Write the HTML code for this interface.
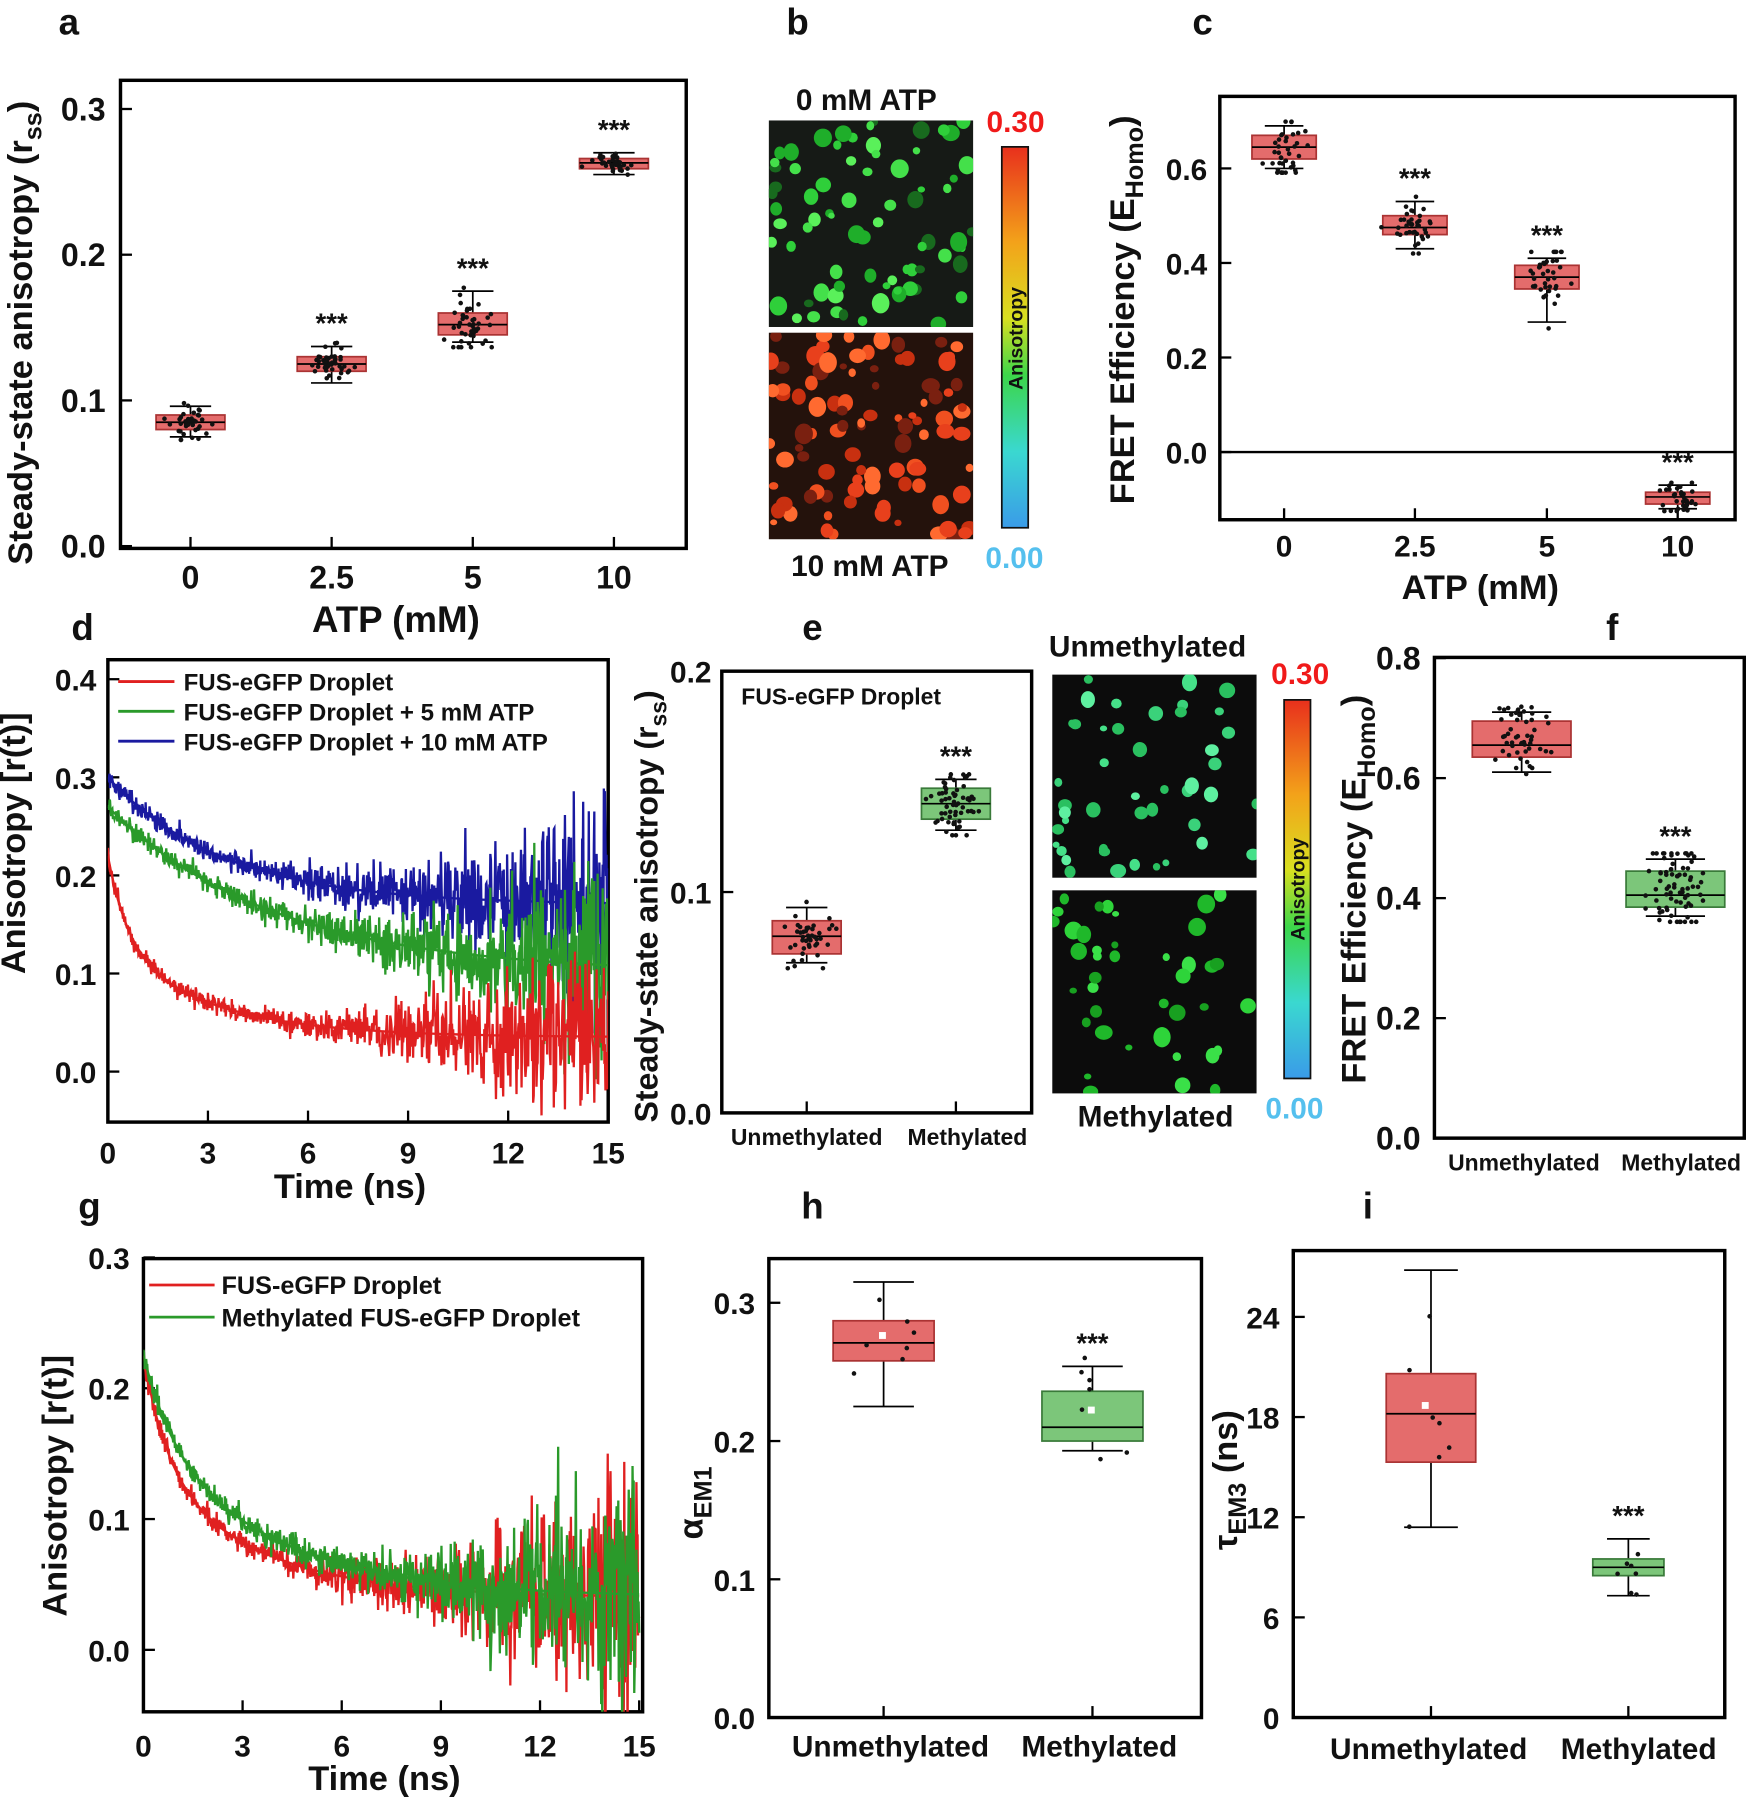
<!DOCTYPE html>
<html><head><meta charset="utf-8"><style>
html,body{margin:0;padding:0;background:#fff;overflow:hidden;width:1750px;height:1799px}
svg{display:block}
text{font-family:"Liberation Sans",Arial,sans-serif;font-weight:bold;fill:#111}
</style></head><body>
<svg id="s" width="1750" height="1799" viewBox="0 0 1525 1568" preserveAspectRatio="none" xmlns="http://www.w3.org/2000/svg">
<defs>
<linearGradient id="cb" x1="0" y1="0" x2="0" y2="1">
<stop offset="0" stop-color="#e8301c"/><stop offset="0.25" stop-color="#f3a21a"/><stop offset="0.45" stop-color="#d8e020"/><stop offset="0.6" stop-color="#3cd64a"/><stop offset="0.8" stop-color="#3ad8d0"/><stop offset="1" stop-color="#3a9be8"/>
</linearGradient>
<clipPath id="cd"><rect x="94" y="575" width="436" height="403"/></clipPath>
<clipPath id="cg"><rect x="125" y="1097" width="435" height="395"/></clipPath>
</defs>
<g id="g"></g>
</svg>
<script>
var G=document.getElementById('g'),out='';
var seed=12345;function rnd(){seed=(seed*16807)%2147483647;return seed/2147483647;}
function gauss(){var u=rnd()||1e-9,v=rnd();return Math.sqrt(-2*Math.log(u))*Math.cos(2*Math.PI*v);}
function T(x,y,s,sz,o){o=o||{};out+='<text x="'+x+'" y="'+y+'" font-size="'+sz+'" text-anchor="'+(o.a||'middle')+'"'+(o.f?' style="fill:'+o.f+'"':'')+(o.r?' transform="rotate(-90 '+x+' '+y+')"':'')+(o.w?' font-weight="'+o.w+'"':'')+'>'+s+'</text>';}
function R(x,y,w,h,st,fill,sw){out+='<rect x="'+x+'" y="'+y+'" width="'+w+'" height="'+h+'" fill="'+(fill||'none')+'" stroke="'+(st||'#000')+'" stroke-width="'+(sw||3)+'"/>';}
function L(x1,y1,x2,y2,c,w){out+='<line x1="'+x1+'" y1="'+y1+'" x2="'+x2+'" y2="'+y2+'" stroke="'+(c||'#000')+'" stroke-width="'+(w||2)+'"/>';}
function box(cx,w,Y,q1,q3,med,wl,wh,col,n,spread,stars){
 var red=col=='r';var fill=red?'#e46c6c':'#7cc67a',st=red?'#a33':'#3a7a3a';
 L(cx,Y(wh),cx,Y(q3),'#000',1.5);L(cx,Y(q1),cx,Y(wl),'#000',1.5);
 L(cx-w*0.3,Y(wh),cx+w*0.3,Y(wh),'#000',1.5);L(cx-w*0.3,Y(wl),cx+w*0.3,Y(wl),'#000',1.5);
 R(cx-w/2,Y(q3),w,Y(q1)-Y(q3),st,fill,1.5);L(cx-w/2,Y(med),cx+w/2,Y(med),'#000',1.5);
 for(var i=0;i<n;i++){var m=(q1+q3)/2,s=(q3-q1)*spread;var v=m+gauss()*s;v=Math.max(wl-(wh-wl)*0.1,Math.min(wh+(wh-wl)*0.1,v));out+='<circle cx="'+(cx+gauss()*w*0.15)+'" cy="'+Y(v)+'" r="2" fill="#111"/>';}
 if(stars)T(cx,Y(wh)-12,'***',24);
}
function lbl(s,x,y){T(x,y,s,32);}
// ---------- a
lbl('a',60,30);
R(105,70,493,408);
var Ya=function(v){return 476-v*1270;};
[0,0.1,0.2,0.3].forEach(function(v){L(105,Ya(v),115,Ya(v));T(92,Ya(v)+10,v.toFixed(1),28,{a:'end'});});
[[166,'0'],[289,'2.5'],[412,'5'],[535,'10']].forEach(function(t){L(t[0],478,t[0],468);T(t[0],513,t[1],28);});
T(345,551,'ATP (mM)',32);T(28,290,'Steady-state anisotropy (r<tspan font-size="22" dy="8">ss</tspan><tspan dy="-8">)</tspan>',30,{r:1});
box(166,60,Ya,.08,.09,.085,.075,.096,'r',40,0.6,0);
box(289,60,Ya,.12,.13,.125,.112,.137,'r',45,0.6,1);
box(412,60,Ya,.145,.16,.152,.14,.175,'r',45,0.6,1);
box(535,60,Ya,.259,.266,.263,.255,.27,'r',40,0.5,1);
// ---------- images
function img(x,y,w,h,bg,cols,n,rmin,rmax){out+='<rect x="'+x+'" y="'+y+'" width="'+w+'" height="'+h+'" fill="'+bg+'"/>';
 out+='<svg x="'+x+'" y="'+y+'" width="'+w+'" height="'+h+'">';
 for(var i=0;i<n;i++){var r=rmin+rnd()*(rmax-rmin);out+='<ellipse cx="'+(rnd()*w)+'" cy="'+(rnd()*h)+'" rx="'+r+'" ry="'+(r*(0.8+rnd()*0.4))+'" fill="'+cols[Math.floor(rnd()*cols.length)]+'"/>';}
 out+='</svg>';}
lbl('b',695,30);
T(755,96,'0 mM ATP',26);T(758,502,'10 mM ATP',26);
img(670,105,178,180,'#161a16',['#2fcf3a','#44e04a','#1fae2a','#5af05a','#186a1e'],75,2.5,8);
img(670,290,178,180,'#24120c',['#e8401c','#f05020','#c83010','#ff6a30','#7a2010'],95,3,8);
R(873,128,23,332,'#111','url(#cb)',1.5);
T(885,115,'0.30',26,{f:'#f01a1a'});T(884,495,'0.00',26,{f:'#55c0ee'});
T(891,295,'Anisotropy',17,{r:1,w:'normal'});
// ---------- c
lbl('c',1048,30);
R(1063,84,449,369);
var Yc=function(v){return 394-v*412;};
[0,0.2,0.4,0.6].forEach(function(v){L(1063,Yc(v),1073,Yc(v));T(1052,Yc(v)+10,v.toFixed(1),26,{a:'end'});});
L(1063,394,1512,394,'#000',2);
[[1119,'0'],[1233,'2.5'],[1348,'5'],[1462,'10']].forEach(function(t){L(t[0],453,t[0],443);T(t[0],485,t[1],26);});
T(1290,522,'ATP (mM)',30);T(988,270,'FRET Efficiency (E<tspan font-size="22" dy="8">Homo</tspan><tspan dy="-8">)</tspan>',30,{r:1});
box(1119,56,Yc,.62,.67,.645,.6,.69,'r',40,0.7,0);
box(1233,56,Yc,.46,.50,.475,.43,.53,'r',40,0.7,1);
box(1348,56,Yc,.345,.395,.37,.275,.41,'r',40,0.8,1);
box(1462,56,Yc,-.11,-.085,-.095,-.12,-.07,'r',35,0.7,1);
// ---------- d
lbl('d',72,558);
R(94,575,436,403);
var Yd=function(v){return 934-v*855;},Xd=function(t){return 94+t*29.07;};
[0,0.1,0.2,0.3,0.4].forEach(function(v){L(94,Yd(v),104,Yd(v));T(84,Yd(v)+10,v.toFixed(1),26,{a:'end'});});
[0,3,6,9,12,15].forEach(function(t){L(Xd(t),978,Xd(t),968);T(Xd(t),1014,t,26);});
T(305,1044,'Time (ns)',30);T(22,735,'Anisotropy [r(t)]',30,{r:1});
function curve(X,Y,f,tmax,nz,col,clip){var d='',dd='';for(var i=0;i<=900;i++){var t=i/900*tmax;var n=nz(t)*gauss();d+=(i?'L':'M')+X(t).toFixed(1)+' '+Y(f(t)+n).toFixed(1);}
 for(var i=0;i<=150;i++){var t=i/150*tmax;dd+=(i?'L':'M')+X(t).toFixed(1)+' '+Y(f(t)).toFixed(1);}
 out+='<g clip-path="url(#'+clip+')"><path d="'+d+'" fill="none" stroke="'+col+'" stroke-width="2"/><path d="'+dd+'" fill="none" stroke="'+col+'" stroke-width="2"/></g>';}
function nzf(a,b){return function(t){var u=t/15;return a+b*u*u*u;};}
curve(Xd,Yd,function(t){return .17+.13*Math.exp(-t/3.5);},15,nzf(.005,.055),'#1a1aa0','cd');
curve(Xd,Yd,function(t){return .1+.17*Math.exp(-t/5);},15,nzf(.005,.05),'#2a9a2a','cd');
curve(Xd,Yd,function(t){return .035+.09*Math.exp(-t/0.6)+.095*Math.exp(-t/3);},15,nzf(.004,.045),'#e02020','cd');
[['#e02020','FUS-eGFP Droplet',594],['#2a9a2a','FUS-eGFP Droplet + 5 mM ATP',620],['#1a1aa0','FUS-eGFP Droplet + 10 mM ATP',646]].forEach(function(l){L(103,l[2],152,l[2],l[0],2.5);T(160,l[2]+8,l[1],21,{a:'start'});});
// ---------- e
lbl('e',708,558);
R(629,585,270,385);
var Ye=function(v){return 970-v*1925;};
[0,0.1,0.2].forEach(function(v){L(629,Ye(v),639,Ye(v));T(620,Ye(v)+10,v.toFixed(1),26,{a:'end'});});
L(703,970,703,960);L(833,970,833,960);
T(703,998,'Unmethylated',20);T(843,998,'Methylated',20);
T(646,614,'FUS-eGFP Droplet',20,{a:'start'});
T(573,790,'Steady-state anisotropy (r<tspan font-size="20" dy="8">ss</tspan><tspan dy="-8">)</tspan>',28,{r:1});
box(703,60,Ye,.072,.087,.08,.068,.093,'r',45,0.6,0);
box(833,60,Ye,.133,.147,.14,.128,.151,'g',60,0.6,1);
T(1000,572,'Unmethylated',26);T(1007,982,'Methylated',26);
img(917,588,178,177,'#0c0c0c',['#3ad27a','#45e088','#2ac060','#5ef0a0'],45,3,7);
img(917,776,178,177,'#0c0c0c',['#1fb82a','#2ed43a','#18a020','#3ae048'],40,3,8);
R(1119,610,23,330,'#111','url(#cb)',1.5);
T(1133,596,'0.30',26,{f:'#f01a1a'});T(1128,975,'0.00',26,{f:'#55c0ee'});
T(1137,775,'Anisotropy',17,{r:1,w:'normal'});
// ---------- f
lbl('f',1405,558);
R(1250,573,270,419);
var Yf=function(v){return 992-v*523;};
[0,0.2,0.4,0.6,0.8].forEach(function(v){L(1250,Yf(v),1260,Yf(v));T(1238,Yf(v)+10,v.toFixed(1),28,{a:'end'});});
T(1328,1020,'Unmethylated',20);T(1465,1020,'Methylated',20);
T(1190,775,'FRET Efficiency (E<tspan font-size="22" dy="8">Homo</tspan><tspan dy="-8">)</tspan>',30,{r:1});
box(1326,86,Yf,.635,.695,.655,.61,.71,'r',50,0.6,0);
box(1460,86,Yf,.385,.445,.405,.37,.465,'g',75,0.7,1);
// ---------- g
lbl('g',78,1062);
R(125,1097,435,395);
var Yg=function(v){return 1438-v*1140;},Xg=function(t){return 125+t*28.8;};
[0,0.1,0.2,0.3].forEach(function(v){L(125,Yg(v),135,Yg(v));T(113,Yg(v)+10,v.toFixed(1),26,{a:'end'});});
[0,3,6,9,12,15].forEach(function(t){L(Xg(t),1492,Xg(t),1482);T(Xg(t),1531,t,26);});
T(335,1560,'Time (ns)',30);T(58,1295,'Anisotropy [r(t)]',30,{r:1});
curve(Xg,Yg,function(t){return .04+.08*Math.exp(-t/0.7)+.105*Math.exp(-t/3.2);},15,nzf(.004,.05),'#e02020','cg');
curve(Xg,Yg,function(t){return .04+.06*Math.exp(-t/0.9)+.125*Math.exp(-t/3.8);},15,nzf(.004,.045),'#2a9a2a','cg');
L(130,1120,187,1120,'#e02020',2.5);T(193,1128,'FUS-eGFP Droplet',22,{a:'start'});
L(130,1148,187,1148,'#2a9a2a',2.5);T(193,1156,'Methylated FUS-eGFP Droplet',22,{a:'start'});
// ---------- h
lbl('h',708,1062);
R(670,1097,377,400);
var Yh=function(v){return 1497-v*1205;};
[0,0.1,0.2,0.3].forEach(function(v){L(670,Yh(v),680,Yh(v));T(658,Yh(v)+10,v.toFixed(1),26,{a:'end'});});
L(770,1497,770,1487);L(952,1497,952,1487);
T(776,1531,'Unmethylated',26);T(958,1531,'Methylated',26);
T(612,1310,'α<tspan font-size="22" dy="8">EM1</tspan>',30,{r:1,w:'normal'});
box(770,88,Yh,.258,.287,.271,.225,.315,'r',7,0.8,0);
box(952,88,Yh,.2,.236,.21,.193,.254,'g',7,0.8,1);
out+='<rect x="766" y="1161" width="6" height="6" fill="#fff"/><rect x="948" y="1226" width="6" height="6" fill="#fff"/>';
// ---------- i
lbl('i',1192,1062);
R(1127,1090,376,407);
var Yi=function(v){return 1497-v*14.55;};
[0,6,12,18,24].forEach(function(v){L(1127,Yi(v),1137,Yi(v));T(1115,Yi(v)+10,v,26,{a:'end'});});
L(1247,1497,1247,1487);L(1419,1497,1419,1487);
T(1245,1533,'Unmethylated',26);T(1428,1533,'Methylated',26);
T(1078,1290,'τ<tspan font-size="22" dy="8">EM3</tspan><tspan dy="-8"> (ns)</tspan>',30,{r:1});
box(1247,78,Yi,15.3,20.6,18.2,11.4,26.8,'r',7,0.8,0);
box(1419,62,Yi,8.5,9.5,9,7.3,10.7,'g',7,0.8,1);
out+='<rect x="1239" y="1222" width="6" height="6" fill="#fff"/>';
G.innerHTML=out;
</script>
</body></html>
